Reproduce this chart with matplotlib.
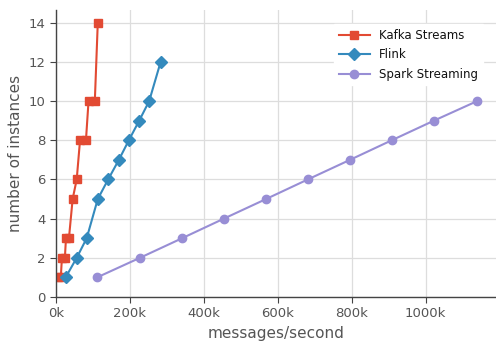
import matplotlib
matplotlib.use("Agg")
import matplotlib.pyplot as plt
from matplotlib.ticker import FuncFormatter

# data (messages/second in thousands, number of instances)
kafka_x = [5, 13, 16, 24, 27, 35, 45, 56, 65, 81, 88, 105, 113]
kafka_y = [1, 1, 2, 2, 3, 3, 5, 6, 8, 8, 10, 10, 14]
flink_x = [26, 56, 83, 113, 141, 170, 197, 225, 252, 283]
flink_y = [1, 2, 3, 5, 6, 7, 8, 9, 10, 12]
spark_x = [111, 227, 341, 454, 568, 681, 795, 908, 1022, 1139]
spark_y = [1, 2, 3, 4, 5, 6, 7, 8, 9, 10]
series_names = ["Kafka Streams", "Flink", "Spark Streaming"]
x_ticks = [0, 200, 400, 600, 800, 1000]

fig = plt.figure(figsize=(4.96, 3.43), dpi=100)
ax = fig.add_axes([56/496, 1-297/343, (496-56)/496, (297-10)/343])

ax.plot([v*1000 for v in kafka_x], kafka_y, color="#E24A33", marker="s", ms=6, lw=1.5, label=series_names[0])
ax.plot([v*1000 for v in flink_x], flink_y, color="#348ABD", marker="D", ms=6, lw=1.5, label=series_names[1])
ax.plot([v*1000 for v in spark_x], spark_y, color="#988ED5", marker="o", ms=6, lw=1.5, label=series_names[2])

ax.set_xlim(0, 1190000)
ax.set_ylim(0, 14.65)
ax.set_xticks([v*1000 for v in x_ticks])
ax.xaxis.set_major_formatter(FuncFormatter(lambda v, p: f"{int(round(v/1000))}k"))
ax.set_yticks(range(0, 15, 2))

ax.grid(True, color="#dddddd", lw=0.9)
ax.set_axisbelow(True)
for s in ["top", "right"]:
    ax.spines[s].set_visible(False)
for s in ["left", "bottom"]:
    ax.spines[s].set_color("#444444")
    ax.spines[s].set_linewidth(1.0)
ax.tick_params(axis="both", direction="out", length=4, color="#444444", labelcolor="#555555", labelsize=9.5)

ax.set_xlabel("messages/second", fontsize=11, color="#555555")
ax.set_ylabel("number of instances", fontsize=11, color="#555555")

leg = ax.legend(loc="upper right", bbox_to_anchor=(483/496, 1-24/343),
                bbox_transform=fig.transFigure, borderaxespad=0,
                fontsize=8.5, frameon=True, fancybox=False,
                handlelength=2.6, labelspacing=0.55)
leg.get_frame().set_edgecolor("white")
leg.get_frame().set_facecolor("white")
leg.get_frame().set_alpha(1)
for t in leg.get_texts():
    t.set_color("#111111")

fig.savefig("out.png", dpi=100)
